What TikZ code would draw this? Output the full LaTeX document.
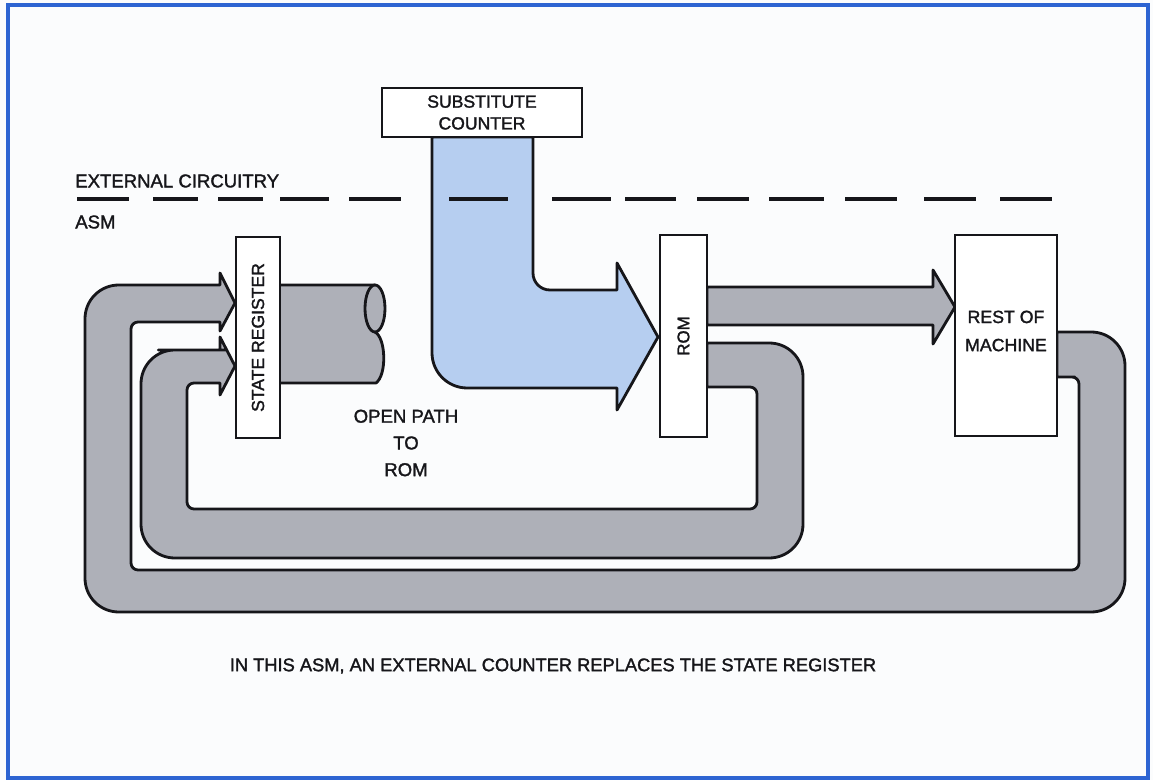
\documentclass[tikz,border=0pt]{standalone}
\usepackage{fontspec}
\setmainfont{Liberation Sans}[FakeBold=1.6]
\usepackage{xcolor}
\usepackage{tikz}
\usetikzlibrary{positioning}

\definecolor{bandgray}{RGB}{174,176,184}
\definecolor{counterblue}{RGB}{182,206,240}
\definecolor{pageframe}{RGB}{45,100,210}
\definecolor{pagebg}{RGB}{251,252,253}
\definecolor{ink}{RGB}{22,22,26}
\newcommand{\pxl}{0.025cm}

\begin{document}
\begin{tikzpicture}[
  x=0.025cm, y=-0.025cm,
  font=\fontsize{12.5}{15}\selectfont,
  box/.style={
    rectangle,
    draw=ink,
    fill=white,
    line width=2pt,
    inner sep=0pt,
    align=center,
    text=ink
  },
  band/.style={
    fill=#1,
    draw=ink,
    line width=2pt,
    line join=round
  },
  band/.default=bandgray,
  dashline/.style={
    draw=ink,
    line width=2.3pt
  },
  tag/.style={
    text=ink,
    inner sep=0pt,
    align=center
  }
]

\useasboundingbox (0,0) rectangle (1153,780);
\fill[pagebg] (0,0) rectangle (1153,780);
\draw[pageframe, line width=2.2pt] (8,5) rectangle (1148,778);

% --- Feedback loops --------------------------------------------------

% Rest of machine back to state register
\path[band] (1057,332) [rounded corners=24] -- (1125,332) -- (1125,612)
  -- (85,612) -- (85,285) -- (150,285) [sharp corners] -- (220,285)
  -- (220,273) -- (235,303) -- (220,331) -- (220,322) -- (175,322)
  [rounded corners=5] -- (131,322) -- (131,570) -- (1079,570)
  -- (1079,377) -- (1068,377) [sharp corners] -- (1057,377) -- cycle;

% ROM back to state register
\path[band] (707,343) [rounded corners=24] -- (803,343) -- (803,558)
  -- (141,558) -- (141,350) -- (192,350) [sharp corners] -- (220,350)
  -- (220,337) -- (235,366) -- (220,395) -- (220,383) -- (205,383)
  [rounded corners=5] -- (187,383) -- (187,509) -- (757,509)
  -- (757,387) -- (730,387) [sharp corners] -- (707,387) -- cycle;

% ROM to rest of machine
\path[band] (707,287) -- (933,287) -- (933,270) -- (955,307)
  -- (933,344) -- (933,325) -- (707,325) -- cycle;

% Open path (cut cable)
\path[band] (280,285) -- (375,285) -- (375,332)
  .. controls (386,338) and (387,375) .. (376,383) -- (280,383);
\path[band] (375,308.5) ellipse [x radius=10, y radius=23.5];

% Substitute counter into ROM
\path[band=counterblue] (432,137) -- (533,137) -- (533,200)
  [rounded corners=12] -- (533,290) -- (575,290) [sharp corners]
  -- (617,290) -- (617,263) -- (658,337) -- (617,410) -- (617,388)
  -- (520,388) [rounded corners=25] -- (432,388) -- (432,250)
  [sharp corners] -- (432,137) -- cycle;

% --- Boundary --------------------------------------------------------

\foreach \a/\b in {77/129, 153/198, 218/263, 280/329, 349/401, 449/508,
  552/611, 625/676, 697/749, 769/824, 845/897, 924/976, 1000/1052}
  \draw[dashline] (\a,199) -- (\b,199);

\node[tag, anchor=west, font=\fontsize{13.2}{15}\selectfont] (extlabel)
  at (75,181) {EXTERNAL CIRCUITRY};
\node[tag, anchor=west, font=\fontsize{13.2}{15}\selectfont] (asmlabel)
  at (75,222) {ASM};

% --- Blocks ----------------------------------------------------------

\node[box, minimum width=200*\pxl, minimum height=49*\pxl,
  font=\fontsize{12.5}{15.5}\selectfont] (counter) at (482,112.5)
{SUBSTITUTE\\COUNTER};

\node[box, rotate=90, minimum width=201*\pxl, minimum height=44*\pxl]
  (statereg) at (258,337.5) {STATE REGISTER};

\node[box, rotate=90, minimum width=202*\pxl, minimum height=47*\pxl,
  font=\fontsize{12}{14}\selectfont] (rom) at (683.5,336) {ROM};

\node[box, minimum width=102*\pxl, minimum height=201*\pxl] (rest)
  at (1006,335.5) {};
\node[tag, font=\fontsize{12.6}{20}\selectfont] (restlabel) at (1006,331)
{REST OF\\MACHINE};

% --- Annotations -----------------------------------------------------

\node[tag, font=\fontsize{13.2}{19}\selectfont] (openpath) at (406,443)
{OPEN PATH\\TO\\ROM};

\node[tag, font=\fontsize{13}{15}\selectfont] (caption) at (553,666)
{IN THIS ASM, AN EXTERNAL COUNTER REPLACES THE STATE REGISTER};

\end{tikzpicture}
\end{document}
